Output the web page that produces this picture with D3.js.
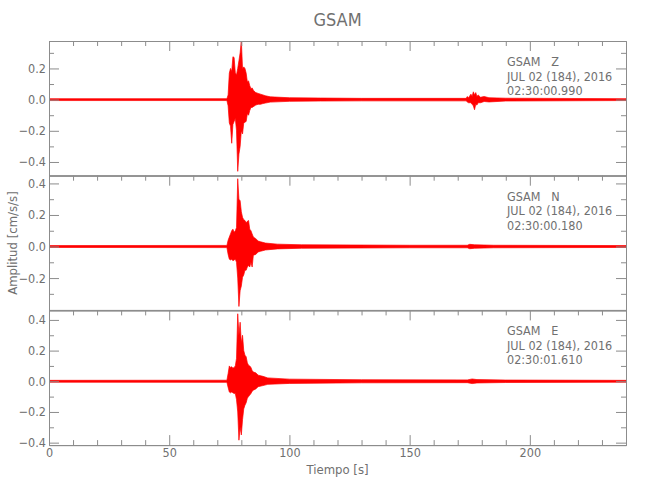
<!DOCTYPE html>
<html>
<head>
<meta charset="utf-8">
<script src="https://cdn.jsdelivr.net/npm/d3@7"></script>
<style>
  body { margin: 0; background: #fff; }
  svg { display: block; }
  text { font-family: "Liberation Sans Narrow", "DejaVu Sans Condensed", "Roboto Condensed", sans-serif; fill: #707070; }
</style>
</head>
<body>
<svg id="chart" width="650" height="500"></svg>
<script>
// ---------------- DATA ----------------
const title = "GSAM";
const xLabel = "Tiempo [s]";
const yLabel = "Amplitud [cm/s/s]";
const components = ["Z", "N", "E"];
const stationLines = [
  ["GSAM   Z", "JUL 02 (184), 2016", "02:30:00.990"],
  ["GSAM   N", "JUL 02 (184), 2016", "02:30:00.180"],
  ["GSAM   E", "JUL 02 (184), 2016", "02:30:01.610"]
];
const xDomain = [0, 240];
const xMajorTicks = [0, 50, 100, 150, 200];
const xMinorTicks = [10,20,30,40,60,70,80,90,110,120,130,140,160,170,180,190,210,220,230];

const yDomainZ = [-0.488, 0.376];
const yDomainN = [-0.405, 0.449];
const yDomainE = [-0.416, 0.462];
const yMajorTicksZ = [-0.4, -0.2, 0.0, 0.2];
const yMajorTicksN = [-0.2, 0.0, 0.2, 0.4];
const yMajorTicksE = [-0.4, -0.2, 0.0, 0.2, 0.4];
const yMinorTicksZ = [-0.3, -0.1, 0.1, 0.3];
const yMinorTicksN = [-0.3, -0.1, 0.1, 0.3];
const yMinorTicksE = [-0.3, -0.1, 0.1, 0.3];

// Envelope of each trace (time in s, max and min amplitude in cm/s/s)
const zTime = [0, 74, 74.5, 75, 75.5, 76, 76.5, 77, 77.5, 78, 78.5, 79, 79.5, 80, 80.5, 81, 81.5, 82, 82.5, 83, 83.5, 84, 84.5, 85, 86, 87, 88, 89, 90, 92, 100, 113, 130, 173.5, 174, 174.5, 175.5, 176, 176.5, 177, 177.5, 178, 178.5, 179.5, 181, 183, 190, 240];
const zHi   = [0.006, 0.006, 0.03, 0.17, 0.2, 0.18, 0.275, 0.27, 0.17, 0.16, 0.2, 0.25, 0.3, 0.38, 0.2, 0.21, 0.2, 0.17, 0.114, 0.12, 0.09, 0.07, 0.075, 0.06, 0.045, 0.04, 0.035, 0.03, 0.025, 0.018, 0.012, 0.01, 0.008, 0.008, 0.02, 0.012, 0.035, 0.02, 0.05, 0.03, 0.045, 0.02, 0.03, 0.015, 0.02, 0.012, 0.009, 0.006];
const zLo   = [-0.006, -0.006, -0.04, -0.15, -0.17, -0.28, -0.16, -0.14, -0.12, -0.2, -0.46, -0.35, -0.3, -0.2, -0.22, -0.15, -0.145, -0.14, -0.09, -0.1, -0.07, -0.05, -0.05, -0.045, -0.035, -0.03, -0.03, -0.025, -0.022, -0.016, -0.011, -0.009, -0.008, -0.008, -0.015, -0.02, -0.02, -0.03, -0.04, -0.065, -0.03, -0.035, -0.02, -0.02, -0.012, -0.015, -0.009, -0.006];

const nTime = [0, 74, 74.5, 75, 75.5, 76, 76.5, 77, 77.5, 78, 78.5, 79, 79.5, 80, 80.5, 81, 81.5, 82, 82.5, 83, 83.5, 84, 84.5, 85, 86, 87, 88, 90, 95, 105, 150, 174, 175, 177, 185, 240];
const nHi   = [0.006, 0.007, 0.04, 0.06, 0.08, 0.1, 0.11, 0.09, 0.1, 0.12, 0.43, 0.3, 0.29, 0.22, 0.185, 0.17, 0.165, 0.15, 0.16, 0.165, 0.11, 0.1, 0.08, 0.06, 0.05, 0.035, 0.03, 0.022, 0.015, 0.011, 0.008, 0.008, 0.014, 0.011, 0.008, 0.006];
const nLo   = [-0.006, -0.007, -0.05, -0.08, -0.085, -0.08, -0.09, -0.085, -0.08, -0.1, -0.2, -0.38, -0.28, -0.25, -0.195, -0.18, -0.15, -0.15, -0.13, -0.12, -0.13, -0.1, -0.13, -0.055, -0.05, -0.035, -0.03, -0.022, -0.015, -0.011, -0.008, -0.008, -0.014, -0.011, -0.008, -0.006];

const eTime = [0, 74, 74.5, 75, 75.5, 76, 76.5, 77, 77.5, 78, 78.5, 79, 79.5, 80, 80.5, 81, 81.5, 82, 82.5, 83, 83.5, 84, 84.5, 85, 86, 87, 89, 91, 100, 130, 174, 176, 178, 190, 240];
const eHi   = [0.006, 0.007, 0.05, 0.1, 0.09, 0.095, 0.085, 0.09, 0.1, 0.15, 0.44, 0.3, 0.385, 0.25, 0.3, 0.2, 0.17, 0.16, 0.12, 0.104, 0.1, 0.09, 0.07, 0.06, 0.055, 0.04, 0.032, 0.022, 0.014, 0.01, 0.009, 0.015, 0.011, 0.008, 0.006];
const eLo   = [-0.006, -0.007, -0.04, -0.07, -0.075, -0.07, -0.075, -0.08, -0.08, -0.12, -0.2, -0.384, -0.3, -0.35, -0.25, -0.18, -0.156, -0.14, -0.11, -0.1, -0.09, -0.08, -0.065, -0.058, -0.05, -0.035, -0.028, -0.02, -0.014, -0.01, -0.009, -0.015, -0.011, -0.008, -0.006];

// ---------------- DRAW ----------------
const svg = d3.select("#chart");
const left = 49, right = 626, top0 = 41, panelH = 134.7;
const axisColor = "#8c8c8c";
const traceColor = "#ff0000";
const fontSize = 12.5;

const x = d3.scaleLinear().domain(xDomain).range([left, right]);

const panelDefs = [
  { time: zTime, hi: zHi, lo: zLo, dom: yDomainZ, major: yMajorTicksZ, minor: yMinorTicksZ },
  { time: nTime, hi: nHi, lo: nLo, dom: yDomainN, major: yMajorTicksN, minor: yMinorTicksN },
  { time: eTime, hi: eHi, lo: eLo, dom: yDomainE, major: yMajorTicksE, minor: yMinorTicksE }
];

function styleAxis(g) {
  g.attr("font-family", null).attr("font-size", null);
  g.selectAll(".domain").attr("stroke", axisColor).attr("stroke-width", 1);
  g.selectAll(".tick line").attr("stroke", axisColor).attr("stroke-width", 1);
  g.selectAll(".tick text").style("font-size", fontSize + "px").attr("fill", "#707070");
}

const defs = svg.append("defs");

panelDefs.forEach((p, i) => {
  const pTop = top0 + i * panelH;
  const pBot = pTop + panelH;
  const y = d3.scaleLinear().domain(p.dom).range([pBot, pTop]);

  defs.append("clipPath").attr("id", "clip" + i)
    .append("rect").attr("x", left).attr("y", pTop).attr("width", right - left).attr("height", panelH);

  const data = p.time.map((t, k) => ({ t: t, hi: p.hi[k], lo: p.lo[k] }));
  const area = d3.area().x(d => x(d.t)).y0(d => y(d.lo)).y1(d => y(d.hi));
  svg.append("path").datum(data)
    .attr("clip-path", "url(#clip" + i + ")")
    .attr("d", area)
    .attr("fill", traceColor)
    .attr("stroke", traceColor)
    .attr("stroke-width", 0.7)
    .attr("stroke-linejoin", "miter");

  // left axis (labels + major ticks)
  svg.append("g").attr("transform", `translate(${left},0)`)
    .call(d3.axisLeft(y).tickValues(p.major).tickSize(-10).tickSizeOuter(0).tickPadding(3).tickFormat(d3.format(".1f")))
    .call(styleAxis);
  svg.append("g").attr("transform", `translate(${left},0)`)
    .call(d3.axisLeft(y).tickValues(p.minor).tickSize(-5).tickSizeOuter(0).tickFormat(""))
    .call(styleAxis);
  // right axis
  svg.append("g").attr("transform", `translate(${right},0)`)
    .call(d3.axisRight(y).tickValues(p.major).tickSize(-10).tickSizeOuter(0).tickFormat(""))
    .call(styleAxis);
  svg.append("g").attr("transform", `translate(${right},0)`)
    .call(d3.axisRight(y).tickValues(p.minor).tickSize(-5).tickSizeOuter(0).tickFormat(""))
    .call(styleAxis);
  // top axis ticks of the panel
  svg.append("g").attr("transform", `translate(0,${pTop})`)
    .call(d3.axisTop(x).tickValues(xMajorTicks).tickSize(-10).tickSizeOuter(0).tickFormat(""))
    .call(styleAxis);
  svg.append("g").attr("transform", `translate(0,${pTop})`)
    .call(d3.axisTop(x).tickValues(xMinorTicks).tickSize(-5).tickSizeOuter(0).tickFormat(""))
    .call(styleAxis);

  // station annotation
  const ann = svg.append("g");
  stationLines[i].forEach((s, k) => {
    ann.append("text")
      .attr("x", 507)
      .attr("y", pTop + 25 + k * 14.5)
      .style("font-size", fontSize + "px")
      .style("white-space", "pre")
      .attr("xml:space", "preserve")
      .text(s);
  });

  if (i === panelDefs.length - 1) {
    svg.append("g").attr("transform", `translate(0,${pBot})`)
      .call(d3.axisBottom(x).tickValues(xMajorTicks).tickSize(-10).tickSizeOuter(0).tickPadding(3).tickFormat(d3.format("d")))
      .call(styleAxis);
    svg.append("g").attr("transform", `translate(0,${pBot})`)
      .call(d3.axisBottom(x).tickValues(xMinorTicks).tickSize(-5).tickSizeOuter(0).tickFormat(""))
      .call(styleAxis);
  } else {
    svg.append("line")
      .attr("x1", left).attr("x2", right).attr("y1", pBot).attr("y2", pBot)
      .attr("stroke", axisColor);
  }
});

// titles
svg.append("text")
  .attr("x", (left + right) / 2).attr("y", 26)
  .attr("text-anchor", "middle")
  .style("font-size", "18px")
  .text(title);

svg.append("text")
  .attr("x", (left + right) / 2).attr("y", 474)
  .attr("text-anchor", "middle")
  .style("font-size", "13px")
  .text(xLabel);

svg.append("text")
  .attr("transform", `translate(17,${top0 + 1.5 * panelH}) rotate(-90)`)
  .attr("text-anchor", "middle")
  .style("font-size", "13px")
  .text(yLabel);
</script>
</body>
</html>
